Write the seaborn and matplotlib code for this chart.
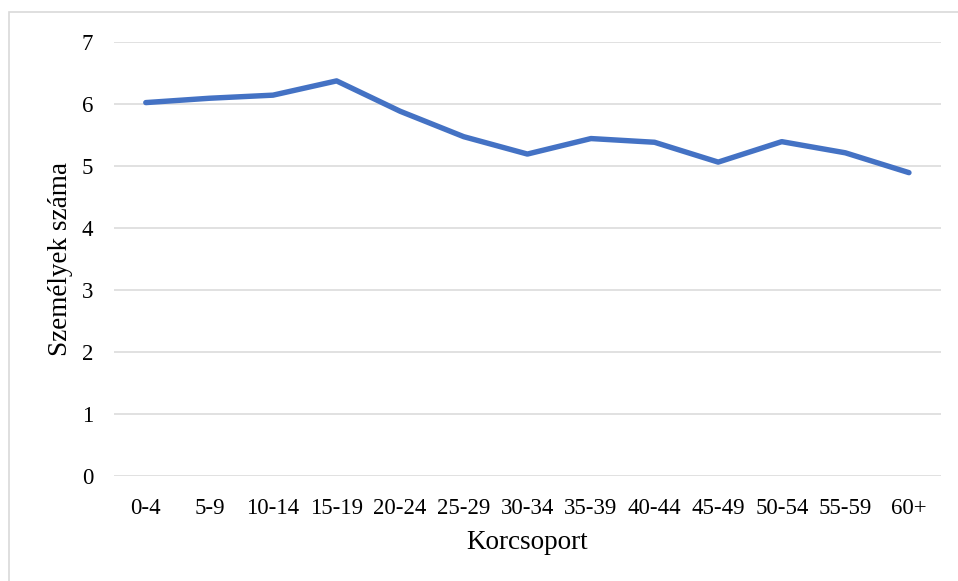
import matplotlib
matplotlib.use("Agg")
import matplotlib.pyplot as plt
import seaborn as sns
import pandas as pd
from matplotlib.patches import Rectangle

# korcsoportok és az átlagos személyszám
korcsoport = ["0-4", "5-9", "10-14", "15-19", "20-24", "25-29", "30-34",
              "35-39", "40-44", "45-49", "50-54", "55-59", "60+"]
szemelyek = [6.02, 6.09, 6.14, 6.37, 5.88, 5.47, 5.19,
             5.44, 5.38, 5.06, 5.39, 5.21, 4.89]

df = pd.DataFrame({"Korcsoport": korcsoport, "Személyek száma": szemelyek})

sns.set_theme(style="whitegrid")
plt.rcParams["font.family"] = ["Liberation Serif", "DejaVu Serif"]

fig = plt.figure(figsize=(9.58, 5.81), dpi=100)
ax = fig.add_axes([0.119, 0.181, 0.863, 0.747])

sns.lineplot(data=df, x="Korcsoport", y="Személyek száma", ax=ax,
             color="#4472C4", linewidth=3.9, sort=False)
ax.lines[0].set_solid_capstyle("round")
ax.lines[0].set_solid_joinstyle("round")

ax.set_ylim(0, 7)
ax.set_yticks(range(0, 8))
ax.set_xlim(-0.5, len(korcsoport) - 0.5)
ax.grid(axis="y", color="#D9D9D9", linewidth=1.1)
ax.grid(axis="x", visible=False)
for s in ax.spines.values():
    s.set_visible(False)
ax.tick_params(axis="both", length=0, labelsize=16.5, colors="black")
ax.tick_params(axis="x", pad=16)
ax.tick_params(axis="y", pad=15)
ax.set_xlabel("Korcsoport", fontsize=19.5, color="black", labelpad=8)
ax.set_ylabel("Személyek száma", fontsize=19.5, color="black", labelpad=6)

# külső keret
fig.patches.append(Rectangle((9 / 958, -0.05), 1.1, 1 - 12 / 581 + 0.05,
                             transform=fig.transFigure, fill=False,
                             edgecolor="#D9D9D9", linewidth=1.2))

fig.savefig("out.png", dpi=100)
